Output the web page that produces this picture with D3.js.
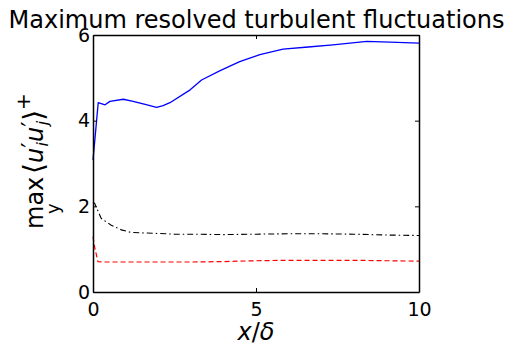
<!DOCTYPE html>
<html>
<head>
<meta charset="utf-8">
<script src="https://cdn.jsdelivr.net/npm/d3@7"></script>
<style>
  html, body { margin: 0; padding: 0; background: #fff; }
  svg { display: block; }
  text { font-family: "DejaVu Sans", "Liberation Sans", sans-serif; fill: #000; }
</style>
</head>
<body>
<svg id="chart" width="509" height="347"></svg>
<script>
// Streamwise position x/delta and the peak of each resolved stress component
const blueX  = [0, 0.16, 0.37, 0.52, 0.93, 1.23, 1.6, 1.95, 2.15, 2.36, 2.98, 3.33, 3.9, 4.5, 5.12, 5.83, 6.6, 7.36, 8.4, 9.33, 10];
const blueY  = [3.08, 4.42, 4.37, 4.45, 4.50, 4.45, 4.38, 4.31, 4.35, 4.42, 4.72, 4.95, 5.17, 5.38, 5.54, 5.67, 5.72, 5.77, 5.85, 5.83, 5.81];
const blackX = [0, 0.05, 0.25, 0.56, 0.87, 1.17, 1.5, 1.89, 2.5, 3, 4, 5, 6, 7, 8, 9, 10];
const blackY = [2.1, 2.07, 1.72, 1.56, 1.45, 1.39, 1.38, 1.37, 1.35, 1.35, 1.34, 1.35, 1.36, 1.36, 1.35, 1.33, 1.32];
const redX   = [0, 0.05, 0.15, 0.3, 1, 2, 3, 4, 5, 6, 7, 8, 9, 10];
const redY   = [1.29, 1.05, 0.71, 0.70, 0.70, 0.70, 0.70, 0.71, 0.73, 0.74, 0.74, 0.74, 0.73, 0.72];
const xTicks = [0, 5, 10];
const yTicks = [0, 2, 4, 6];

const svg = d3.select("#chart");
const m = { left: 93, right: 90, top: 35, bottom: 55 };
const W = 509, H = 347;
const x = d3.scaleLinear().domain([0, 10]).range([m.left, W - m.right]);
const y = d3.scaleLinear().domain([0, 6]).range([H - m.bottom, m.top]);

// lines
const line = d3.line().x(d => x(d[0])).y(d => y(d[1]));
const series = [
  { xs: blueX,  ys: blueY,  color: "#0000ff", dash: null,        w: 1.3 },
  { xs: blackX, ys: blackY, color: "#000000", dash: "6,3,1.5,3", w: 1.1 },
  { xs: redX,   ys: redY,   color: "#ff0000", dash: "5,3",       w: 1.2 }
];
series.forEach(s => {
  svg.append("path")
    .datum(d3.zip(s.xs, s.ys))
    .attr("d", line)
    .attr("fill", "none")
    .attr("stroke", s.color)
    .attr("stroke-width", s.w)
    .attr("stroke-linejoin", "round")
    .attr("stroke-dasharray", s.dash);
});

// axes box with inward ticks on all sides
const tick = 4;
const fmt = d3.format("d");
const gB = svg.append("g").attr("transform", `translate(0,${y(0)})`)
  .call(d3.axisBottom(x).tickValues(xTicks).tickFormat(fmt).tickSizeInner(-tick).tickSizeOuter(0).tickPadding(11));
const gT = svg.append("g").attr("transform", `translate(0,${y(6)})`)
  .call(d3.axisTop(x).tickValues(xTicks).tickSizeInner(-tick).tickSizeOuter(0).tickFormat(""));
const gL = svg.append("g").attr("transform", `translate(${x(0)},0)`)
  .call(d3.axisLeft(y).tickValues(yTicks).tickFormat(fmt).tickSizeInner(-tick).tickSizeOuter(0).tickPadding(3));
const gR = svg.append("g").attr("transform", `translate(${x(10)},0)`)
  .call(d3.axisRight(y).tickValues(yTicks).tickSizeInner(-tick).tickSizeOuter(0).tickFormat(""));
[gB, gT, gL, gR].forEach(g => {
  g.selectAll(".domain").attr("stroke", "#000").attr("stroke-width", 1.5);
  g.selectAll(".tick line").attr("stroke", "#000").attr("stroke-width", 1);
  g.selectAll("text").style("font-size", "19px").attr("fill", "#000")
    .style("font-family", "'DejaVu Sans', sans-serif");
});

// title
svg.append("text")
  .attr("x", W / 2 + 2).attr("y", 28)
  .attr("text-anchor", "middle")
  .attr("textLength", 496)
  .attr("lengthAdjust", "spacingAndGlyphs")
  .style("font-size", "24px")
  .text("Maximum resolved turbulent fluctuations");

// x label
const xl = svg.append("text")
  .attr("x", x(5)).attr("y", 340)
  .attr("text-anchor", "middle")
  .style("font-size", "24px");
xl.append("tspan").style("font-style", "italic").text("x");
xl.append("tspan").text("/");
xl.append("tspan").style("font-style", "italic").text("δ");

// y label: max over y of <u'_i u'_j>^+
const yl = svg.append("g").attr("transform", "translate(43,229) rotate(-90)")
  .style("font-family", "'Liberation Sans', 'DejaVu Sans', sans-serif");
yl.append("text").attr("x", 0).attr("y", 0).style("font-size", "24px").text("max");
yl.append("text").attr("x", 15).attr("y", 16).style("font-size", "18px").text("y");
const br = yl.append("text").attr("x", 55).attr("y", 0).style("font-size", "24px");
br.append("tspan").style("font-size", "28px").text("⟨");
br.append("tspan").style("font-style", "italic").text("u");
br.append("tspan").attr("dy", -4).text("′");
br.append("tspan").attr("dy", 9).attr("dx", -4).style("font-size", "16px").style("font-style", "italic").text("i");
br.append("tspan").attr("dy", -5).style("font-style", "italic").text("u");
br.append("tspan").attr("dy", -4).text("′");
br.append("tspan").attr("dy", 9).attr("dx", -4).style("font-size", "16px").style("font-style", "italic").text("j");
br.append("tspan").attr("dy", -5).style("font-size", "28px").text("⟩");
br.append("tspan").attr("dy", -13).style("font-size", "20px").text("+");
</script>
</body>
</html>
